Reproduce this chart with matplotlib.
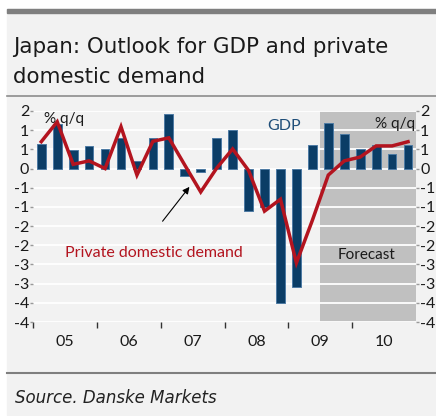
import math
import matplotlib
matplotlib.use("Agg")
import matplotlib.pyplot as plt
from matplotlib.patches import Rectangle
from matplotlib.lines import Line2D
from matplotlib.ticker import FixedLocator, FuncFormatter, NullFormatter

# quarterly data 2005Q1 - 2010Q4, % q/q
years = ["05", "06", "07", "08", "09", "10"]
gdp = [0.65, 1.15, 0.48, 0.59, 0.50, 0.80, 0.20, 0.80,
       1.41, -0.20, -0.10, 0.80, 1.01, -1.10, -1.00, -3.50,
       -3.10, 0.61, 1.20, 0.90, 0.50, 0.61, 0.39, 0.61]
private_demand = [0.70, 1.22, 0.11, 0.20, 0.00, 1.09, -0.17, 0.71,
                  0.80, 0.09, -0.61, 0.01, 0.51, -0.05, -1.11, -0.80,
                  -2.46, -1.35, -0.17, 0.20, 0.30, 0.59, 0.59, 0.70]
forecast_start = 18  # 2009Q3

W, H = 436, 416
BG = "#f2f2f2"
BLUE = "#0b3d66"
RED = "#b3141f"

plt.rcParams["font.family"] = ["Lato", "DejaVu Sans"]

fig = plt.figure(figsize=(W / 100, H / 100), dpi=100)
fig.patch.set_facecolor("white")


def fx(x):
    return x / W


def fy(y):
    return 1 - y / H


# panel frame
fig.add_artist(Rectangle((fx(7), fy(415)), fx(W - 7), (415 - 9) / H,
                         transform=fig.transFigure, color=BG, zorder=-10))
fig.add_artist(Rectangle((fx(7), fy(13)), fx(W - 7), 4 / H,
                         transform=fig.transFigure, color="#7f7f7f", zorder=-9))
fig.add_artist(Line2D([fx(7), 1], [fy(96), fy(96)], transform=fig.transFigure,
                      color="#8c8c8c", lw=1.2))
fig.add_artist(Line2D([fx(7), 1], [fy(373), fy(373)], transform=fig.transFigure,
                      color="#7f7f7f", lw=1.5))

fig.text(fx(13), fy(53), "Japan: Outlook for GDP and private", fontsize=15.4,
         family="DejaVu Sans", color="#1a1a1a", va="baseline")
fig.text(fx(13), fy(83), "domestic demand", fontsize=15.4,
         family="DejaVu Sans", color="#1a1a1a", va="baseline")
fig.text(fx(15), fy(398), "Source. Danske Markets", fontsize=12,
         family="DejaVu Sans", style="italic", color="#222222", va="center")

ax = fig.add_axes([fx(33.3), fy(322), (416 - 33.3) / W, (322 - 111) / H])
ax.set_facecolor("none")
ax.set_axisbelow(True)

x = list(range(len(gdp)))
ax.axvspan(forecast_start - 0.5, len(gdp) - 0.5, color="#c0c0c0", zorder=0, lw=0)
ax.bar(x, gdp, width=0.55, color=BLUE, edgecolor="#4d7aa3", linewidth=0.7, zorder=2)
ax.plot(x, private_demand, color=RED, lw=2.5, zorder=3, solid_joinstyle="miter")

ax.set_xlim(-0.5, len(gdp) - 0.5)
ax.set_ylim(-4, 1.5)

yt = [-4 + 0.5 * i for i in range(12)]


def excel_round(v, pos=None):
    r = math.floor(abs(v) + 0.5)
    if r == 0:
        return "0"
    return ("-" if v < 0 else "") + str(r)


ax.yaxis.set_major_locator(FixedLocator(yt))
ax.yaxis.set_major_formatter(FuncFormatter(excel_round))
ax.grid(axis="y", color="white", lw=1.3)
ax.grid(axis="x", visible=False)

ax.xaxis.set_major_locator(FixedLocator([-0.5 + 4 * i for i in range(len(years))]))
ax.xaxis.set_major_formatter(NullFormatter())
ax.xaxis.set_minor_locator(FixedLocator([1.5 + 4 * i for i in range(len(years))]))
ax.set_xticklabels(years, minor=True)
ax.tick_params(axis="x", which="major", length=4, width=1, color="#333333", direction="out")
ax.tick_params(axis="x", which="minor", length=0, pad=9, labelsize=11.5, labelcolor="#1a1a1a")
ax.tick_params(axis="y", length=2, width=1, color="#999999", labelsize=11.5,
               labelcolor="#1a1a1a", pad=1)
for s in ax.spines.values():
    s.set_visible(False)

ax2 = ax.twinx()
ax2.set_ylim(ax.get_ylim())
ax2.yaxis.set_major_locator(FixedLocator(yt))
ax2.yaxis.set_major_formatter(FuncFormatter(excel_round))
ax2.tick_params(axis="y", length=2, width=1, color="#999999", labelsize=11.5,
                labelcolor="#1a1a1a", pad=1)
for s in ax2.spines.values():
    s.set_visible(False)

# annotations
ax.text(0.2, 1.3, "% q/q", fontsize=11, color="#1a1a1a", va="center")
ax.text(20.9, 1.15, "% q/q", fontsize=11, color="#1a1a1a", va="center")
ax.text(14.2, 1.1, "GDP", fontsize=11.5, color="#1f4e79", va="center")
ax.text(1.5, -2.2, "Private domestic demand", fontsize=11.5, color=RED, va="center")
ax.text(18.6, -2.25, "Forecast", fontsize=11, color="#1a1a1a", va="center")
ax.annotate("", xy=(9.4, -0.42), xytext=(7.5, -1.43),
            arrowprops=dict(arrowstyle="-|>", color="black", lw=0.8,
                            mutation_scale=10))

fig.savefig("out.png", dpi=100)
